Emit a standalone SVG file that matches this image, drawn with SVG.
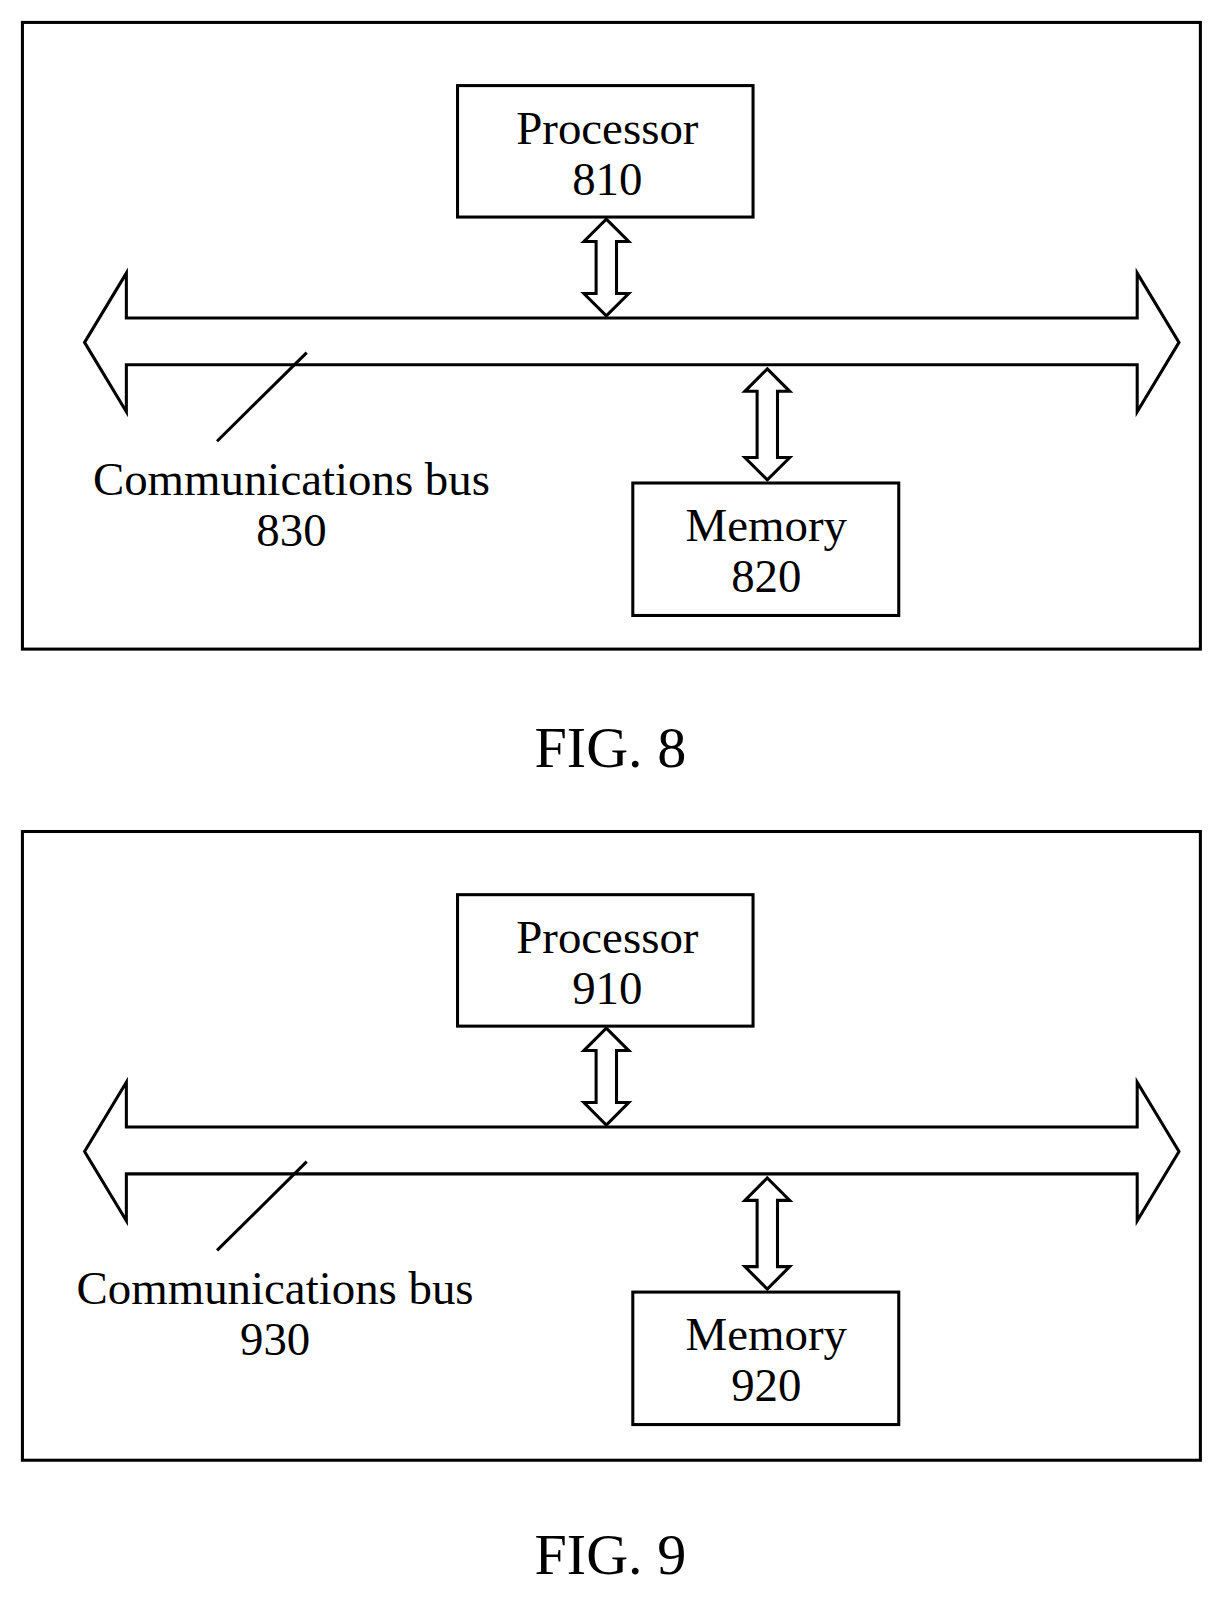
<svg xmlns="http://www.w3.org/2000/svg" width="1223" height="1598" viewBox="0 0 1223 1598">
<style>
.s{fill:none;stroke:#000;stroke-width:3}
.a{fill:#fff;stroke:#000;stroke-width:3;stroke-linejoin:miter}
text{font-family:"Liberation Serif",serif;font-size:46px;text-anchor:middle;fill:#000}
.f{font-size:57px}
</style>
<rect width="1223" height="1598" fill="#fff"/>
<g transform="scale(1.019)">
<g id="fig8">
<rect id="frame8" class="s" x="22" y="22" width="1156" height="615"/>
<g id="processor810"><rect class="s" x="449" y="84" width="290" height="129"/><text x="596" y="141">Processor</text><text x="596" y="191">810</text></g>
<g id="memory820"><rect class="s" x="621" y="474" width="261" height="130"/><text x="752" y="531">Memory</text><text x="752" y="581">820</text></g>
<g id="connectors8">
<polygon id="bus830" class="a" points="83,336 124,268 124,312 1116,312 1116,268 1157,336 1116,404 1116,358 124,358 124,404"/>
<polygon class="a" points="595,215 617,237 605,237 605,288 617,288 595,310 573,288 585,288 585,237 573,237"/>
<polygon class="a" points="753,362 775,384 763,384 763,449 775,449 753,471 731,449 743,449 743,384 731,384"/>
<line class="s" x1="213" y1="433" x2="301" y2="346"/>
</g>
<g id="label830"><text x="286" y="486">Communications bus</text><text x="286" y="536">830</text></g>
<text class="f" x="599" y="753">FIG. 8</text>
</g>
<g id="fig9" transform="translate(0,794)">
<rect id="frame9" class="s" x="22" y="22" width="1156" height="617"/>
<g id="processor910"><rect class="s" x="449" y="84" width="290" height="129"/><text x="596" y="141">Processor</text><text x="596" y="191">910</text></g>
<g id="memory920"><rect class="s" x="621" y="474" width="261" height="130"/><text x="752" y="531">Memory</text><text x="752" y="581">920</text></g>
<g id="connectors9">
<polygon id="bus930" class="a" points="83,336 124,268 124,312 1116,312 1116,268 1157,336 1116,404 1116,358 124,358 124,404"/>
<polygon class="a" points="595,215 617,237 605,237 605,288 617,288 595,310 573,288 585,288 585,237 573,237"/>
<polygon class="a" points="753,362 775,384 763,384 763,449 775,449 753,471 731,449 743,449 743,384 731,384"/>
<line class="s" x1="213" y1="433" x2="301" y2="346"/>
</g>
<g id="label930"><text x="270" y="486">Communications bus</text><text x="270" y="536">930</text></g>
<text class="f" x="599" y="751">FIG. 9</text>
</g>
</g>
</svg>
